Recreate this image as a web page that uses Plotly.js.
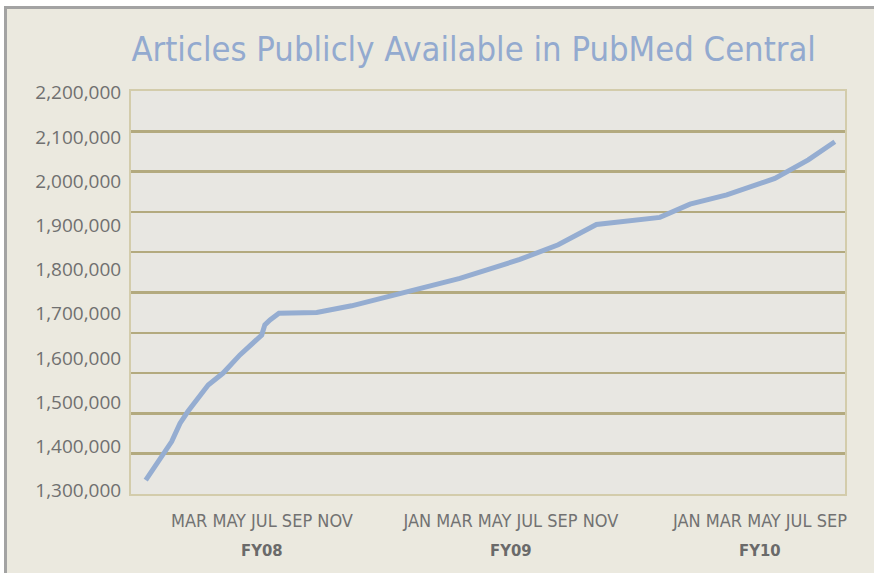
<!DOCTYPE html>
<html>
<head>
<meta charset="utf-8">
<script src="https://cdn.plot.ly/plotly-3.0.1.min.js"></script>
<style>
  html, body { margin: 0; padding: 0; background: #ffffff; }
  #chart { width: 874px; height: 573px; }
</style>
</head>
<body>
<div id="chart"></div>
<script>
// Months since 1 Jan 2008 and articles available
var months = [0.4, 1.65, 2.05, 2.43, 3.41, 4.13, 4.94, 5.99, 6.14, 6.39, 6.82, 8.64, 10.32, 15.54, 18.43, 20.28, 22.12, 25.18, 26.63, 28.40, 30.72, 32.33, 33.61];
var articles = [1324000, 1411000, 1452000, 1479000, 1539000, 1566000, 1607000, 1652000, 1675000, 1686000, 1701000, 1703000, 1718000, 1780000, 1823000, 1856000, 1902000, 1918000, 1948000, 1969000, 2006000, 2048000, 2089000];

var groupCenters = [6, 18, 30];
var monthGroups = ["MAR MAY JUL SEP NOV", "JAN MAR MAY JUL SEP NOV", "JAN MAR MAY JUL SEP"];
var fiscalYears = ["FY08", "FY09", "FY10"];

var yTicks = [1300000, 1400000, 1500000, 1600000, 1700000, 1800000, 1900000, 2000000, 2100000, 2200000];

var M = {l: 131, r: 29, t: 91, b: 79};
var narrow = "Liberation Sans Narrow, DejaVu Sans Condensed, Arial Narrow, sans-serif";

var trace = {
  x: months,
  y: articles,
  type: "scatter",
  mode: "lines",
  line: {color: "#95ADD1", width: 5},
  hoverinfo: "skip"
};

// border strip (white margin + gray frame at top and left)
function pxShape(x0, x1, y0, y1, color) {
  return {
    type: "rect", xref: "paper", yref: "paper",
    xsizemode: "pixel", ysizemode: "pixel",
    xanchor: 0, yanchor: 1,
    x0: x0 - M.l, x1: x1 - M.l,
    y0: M.t - y0, y1: M.t - y1,
    fillcolor: color, line: {width: 0}, layer: "above"
  };
}

var fyAnnotations = fiscalYears.map(function (fy, i) {
  return {
    text: "<b>" + fy + "</b>",
    x: groupCenters[i], xref: "x",
    y: 0, yref: "paper", yanchor: "middle", yshift: -56,
    showarrow: false,
    font: {family: narrow, size: 16.5, color: "#6A6A6A"}
  };
});

var layout = {
  width: 874, height: 573,
  margin: M,
  paper_bgcolor: "#EBE9DF",
  plot_bgcolor: "#E8E7E2",
  showlegend: false,
  title: {
    text: "Articles Publicly Available in PubMed Central",
    font: {family: narrow, size: 34.3, color: "#93AACF"},
    xref: "paper", x: 0.48, xanchor: "center",
    yref: "container", y: 0.915, yanchor: "middle"
  },
  xaxis: {
    range: [-0.31, 34.1],
    tickvals: groupCenters,
    ticktext: monthGroups,
    ticks: "",
    showgrid: false,
    zeroline: false,
    showline: true, mirror: true, linecolor: "#D3CCAB", linewidth: 2,
    tickfont: {family: narrow, size: 18, color: "#727272"},
    ticklabelstandoff: 9
  },
  yaxis: {
    range: [1292500, 2203800],
    tickvals: yTicks,
    tickformat: ",d",
    ticks: "",
    showgrid: false,
    zeroline: false,
    showline: true, mirror: true, linecolor: "#D3CCAB", linewidth: 2,
    tickfont: {family: "Open Sans, sans-serif", size: 19, color: "#707070"},
    ticklabelstandoff: 4
  },
  yaxis2: {
    overlaying: "y",
    range: [0, 10],
    tick0: 0, dtick: 1,
    showticklabels: false,
    ticks: "",
    showgrid: true, gridcolor: "#B3AA7F", gridwidth: 2.5,
    zeroline: false, showline: false,
    layer: "below traces"
  },
  annotations: fyAnnotations,
  shapes: [
    pxShape(0, 874, 0, 6, "#FFFFFF"),
    pxShape(0, 4, 0, 573, "#FFFFFF"),
    pxShape(4, 874, 6, 9, "#A3A3A3"),
    pxShape(4, 7, 6, 573, "#A3A3A3")
  ]
};

var gridTrace = {x: [null], y: [null], yaxis: "y2", type: "scatter", mode: "lines", hoverinfo: "skip"};

Plotly.newPlot("chart", [gridTrace, trace], layout, {displayModeBar: false, staticPlot: true});
</script>
</body>
</html>
